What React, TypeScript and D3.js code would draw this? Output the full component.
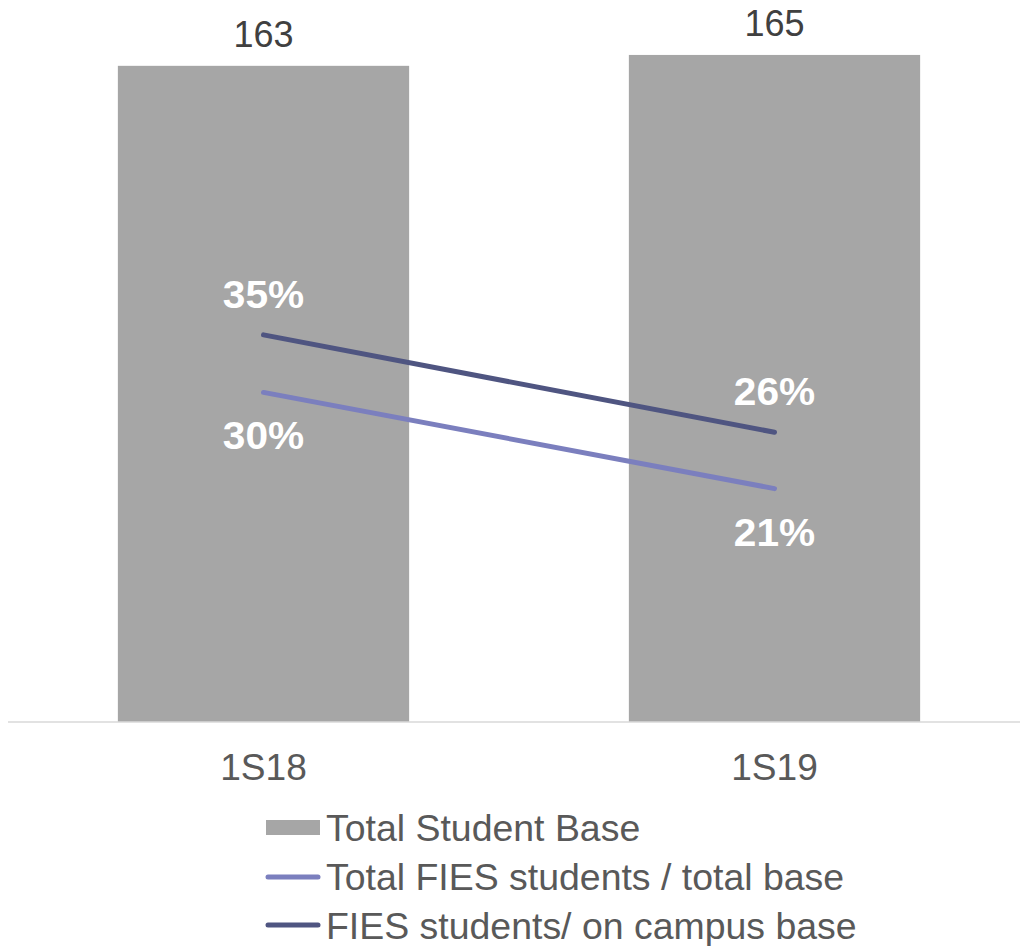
import React from "react";
import * as d3 from "d3";

const categories = ["1S18", "1S19"];
const totalStudentBase = [162.7, 165.4];
const fiesTotalBase = [0.298, 0.211];
const fiesOnCampus = [0.35, 0.262];
const seriesNames = [
  "Total Student Base",
  "Total FIES students / total base",
  "FIES students/ on campus base",
];

const W = 1020;
const H = 946;
const FONT = "'Liberation Sans', Arial, sans-serif";

function SText(props: { x: number; y: number; sx: number; anchor?: string; size: number; weight?: string; fill: string; children: React.ReactNode }) {
  return (
    <g transform={`translate(${props.x},${props.y}) scale(${props.sx},1)`}>
      <text x={0} y={0} textAnchor={props.anchor || "start"} fontSize={props.size} fontWeight={props.weight || "normal"} fill={props.fill}>
        {props.children}
      </text>
    </g>
  );
}

export default function App() {
  const x = d3.scaleBand<string>().domain(categories).range([8, 1030]).paddingInner(0.43).paddingOuter(0.215);
  const yBar = d3.scaleLinear().domain([0, 170]).range([722, 722 - 170 * 4.033]);
  const yPct = d3.scaleLinear().domain([0, 0.6]).range([722, 722 - 663.6]);
  const cx = (c: string) => (x(c) as number) + x.bandwidth() / 2;
  const fmtInt = d3.format(".0f");
  const fmtPct = d3.format(".0%");

  const line = d3
    .line<number>()
    .x((_, i) => cx(categories[i]))
    .y((d) => yPct(d));

  const darkColor = "#4F5581";
  const lightColor = "#7B7FBE";
  const barColor = "#A6A6A6";

  return (
    <svg
      width={W}
      height={H}
      style={{ position: "absolute", left: 0, top: 0, background: "#fff" }}
      fontFamily={FONT}
    >
      {categories.map((c, i) => (
        <rect
          key={c}
          x={x(c)}
          y={yBar(totalStudentBase[i])}
          width={x.bandwidth()}
          height={yBar(0) - yBar(totalStudentBase[i])}
          fill={barColor}
        />
      ))}
      <line x1={8} x2={W} y1={yBar(0)} y2={yBar(0)} stroke="#D9D9D9" strokeWidth={1.5} />
      {categories.map((c, i) => (
        <SText key={"v" + c} x={cx(c)} y={yBar(totalStudentBase[i]) - 19} sx={1} anchor="middle" size={36} fill="#404040">
          {fmtInt(totalStudentBase[i])}
        </SText>
      ))}
      {categories.map((c) => (
        <SText key={"c" + c} x={cx(c)} y={780} sx={1.03} anchor="middle" size={36} fill="#595959">
          {c}
        </SText>
      ))}
      <path d={line(fiesTotalBase) || ""} fill="none" stroke={lightColor} strokeWidth={5} strokeLinecap="round" />
      <path d={line(fiesOnCampus) || ""} fill="none" stroke={darkColor} strokeWidth={5} strokeLinecap="round" />
      {categories.map((c, i) => (
        <SText key={"d" + c} x={cx(c)} y={yPct(fiesOnCampus[i]) - 27} sx={1.07} anchor="middle" size={38} weight="bold" fill="#fff">
          {fmtPct(fiesOnCampus[i])}
        </SText>
      ))}
      {categories.map((c, i) => (
        <SText key={"l" + c} x={cx(c)} y={yPct(fiesTotalBase[i]) + 57} sx={1.07} anchor="middle" size={38} weight="bold" fill="#fff">
          {fmtPct(fiesTotalBase[i])}
        </SText>
      ))}
      {/* legend */}
      <g>
        <rect x={266} y={820} width={54} height={15} fill={barColor} />
        <SText x={326} y={841} sx={1.04} size={36} fill="#595959">{seriesNames[0]}</SText>
        <line x1={268} x2={318} y1={877} y2={877} stroke={lightColor} strokeWidth={5} strokeLinecap="round" />
        <SText x={326} y={890} sx={1.04} size={36} fill="#595959">{seriesNames[1]}</SText>
        <line x1={268} x2={318} y1={925} y2={925} stroke={darkColor} strokeWidth={5} strokeLinecap="round" />
        <SText x={326} y={939} sx={1.04} size={36} fill="#595959">{seriesNames[2]}</SText>
      </g>
    </svg>
  );
}
